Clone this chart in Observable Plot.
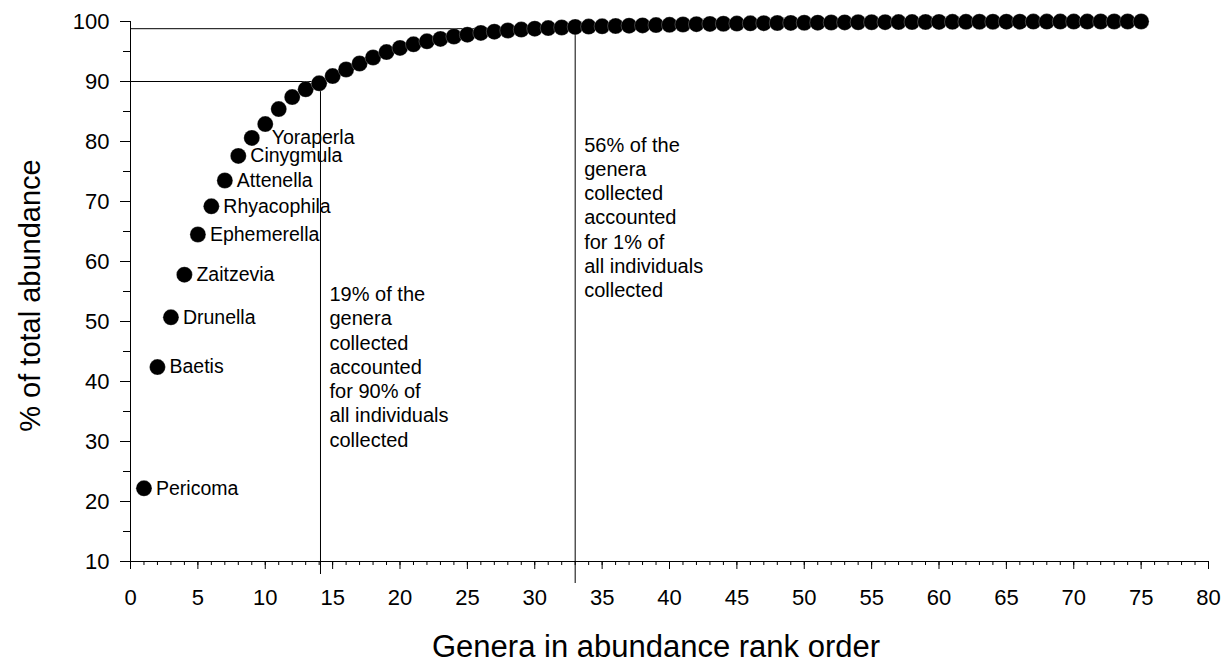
<!DOCTYPE html>
<html>
<head>
<meta charset="utf-8">
<script src="https://cdn.jsdelivr.net/npm/d3@7"></script>
<script src="https://cdn.jsdelivr.net/npm/@observablehq/plot@0.6"></script>
<style>
  html, body { margin: 0; padding: 0; background: #fff; }
  #chart svg { display: block; }
</style>
</head>
<body>
<div id="chart"></div>
<script>
// Cumulative % of total abundance by genus rank
const ranks = d3.range(1, 76);
const cumPercent = [
  22.2, 42.4, 50.7, 57.8, 64.5, 69.2, 73.5, 77.6, 80.6, 82.9,
  85.4, 87.4, 88.7, 89.7, 90.9, 92.0, 93.0, 94.0, 94.9, 95.6,
  96.2, 96.7, 97.1, 97.5, 97.8, 98.1, 98.3, 98.5, 98.65, 98.8,
  98.9, 99.0, 99.1, 99.15, 99.2, 99.25, 99.3, 99.35, 99.4, 99.45,
  99.5, 99.55, 99.6, 99.63, 99.66, 99.69, 99.72, 99.75, 99.77, 99.79,
  99.81, 99.83, 99.85, 99.87, 99.88, 99.89, 99.9, 99.91, 99.92, 99.93,
  99.94, 99.95, 99.96, 99.96, 99.97, 99.97, 99.98, 99.98, 99.99, 99.99,
  99.99, 100, 100, 100, 100
];
const generaLabels = ["Pericoma", "Baetis", "Drunella", "Zaitzevia", "Ephemerella",
  "Rhyacophila", "Attenella", "Cinygmula", "Yoraperla"];

const xMajorTicks = d3.range(0, 81, 5);
const xMinorTicks = d3.range(0, 81, 1);
const yMajorTicks = d3.range(10, 101, 10);
const yMinorTicks = d3.range(15, 100, 10);

// reference lines: [x rank, y %]
const cut90 = {x: 14.1, y: 90};
const cut99 = {x: 33, y: 98.8};
const note90 = "19% of the\ngenera\ncollected\naccounted\nfor 90% of\nall individuals\ncollected";
const note99 = "56% of the\ngenera\ncollected\naccounted\nfor 1% of\nall individuals\ncollected";

const xTitle = "Genera in abundance rank order";
const yTitle = "% of total abundance";

const points = ranks.map((r, i) => ({rank: r, pct: cumPercent[i], label: generaLabels[i] || null}));
const labelled = points.filter(d => d.label && d.label !== "Yoraperla");
const labelledFar = points.filter(d => d.label === "Yoraperla");

const font = "Liberation Sans, Arial, sans-serif";

const chart = Plot.plot({
  width: 1227,
  height: 660,
  marginLeft: 130,
  marginRight: 19,
  marginTop: 21,
  marginBottom: 99,
  style: {fontFamily: font, color: "#000", background: "#fff"},
  x: {domain: [0, 80]},
  y: {domain: [10, 100]},
  marks: [
    // axes
    Plot.axisX({ticks: xMinorTicks, tickSize: 4, tickFormat: () => "", label: null, strokeWidth: 1}),
    Plot.axisX({ticks: xMajorTicks, tickSize: 8, tickPadding: 20, fontSize: 22, label: null, strokeWidth: 1}),
    Plot.axisY({ticks: yMinorTicks, tickSize: 7, tickFormat: () => "", label: null, strokeWidth: 1}),
    Plot.axisY({ticks: yMajorTicks, tickSize: 10, tickPadding: 11, fontSize: 22, label: null, strokeWidth: 1}),
    Plot.ruleY([10], {stroke: "#000", strokeWidth: 1}),
    Plot.ruleX([0], {stroke: "#000", strokeWidth: 1}),
    // reference lines
    Plot.ruleY([cut90], {y: "y", x1: 0, x2: "x", stroke: "#000", strokeWidth: 1}),
    Plot.ruleX([cut90], {x: "x", y1: "y", y2: 10, insetBottom: -13, stroke: "#000", strokeWidth: 1}),
    Plot.ruleY([cut99], {y: "y", x1: 0, x2: "x", stroke: "#000", strokeWidth: 1}),
    Plot.ruleX([cut99], {x: "x", y1: "y", y2: 10, insetBottom: -22, stroke: "#000", strokeWidth: 1}),
    // notes
    Plot.text([note90], {x: cut90.x, y: 56.3, text: d => d, textAnchor: "start", lineAnchor: "top",
      dx: 9, fontSize: 20, lineHeight: 1.215, fill: "#000"}),
    Plot.text([note99], {x: cut99.x, y: 81.2, text: d => d, textAnchor: "start", lineAnchor: "top",
      dx: 9, fontSize: 20, lineHeight: 1.215, fill: "#000"}),
    // points
    Plot.dot(points, {x: "rank", y: "pct", r: 8, fill: "#000", stroke: "#fff", strokeWidth: 0.5, strokeOpacity: 0.5}),
    Plot.text(labelled, {x: "rank", y: "pct", text: "label", textAnchor: "start",
      dx: 12, fontSize: 19.5, fill: "#000"}),
    Plot.text(labelledFar, {x: "rank", y: "pct", text: "label", textAnchor: "start",
      dx: 20, fontSize: 19.5, fill: "#000"}),
    // titles
    Plot.text([xTitle], {x: 39, y: 10, dy: 86, text: d => d, fontSize: 31, fill: "#000"}),
    Plot.text([yTitle], {frameAnchor: "left", dx: -100, dy: 4, rotate: -90, textAnchor: "middle", text: d => d, fontSize: 29, fill: "#000"})
  ]
});

document.getElementById("chart").append(chart);
</script>
</body>
</html>
